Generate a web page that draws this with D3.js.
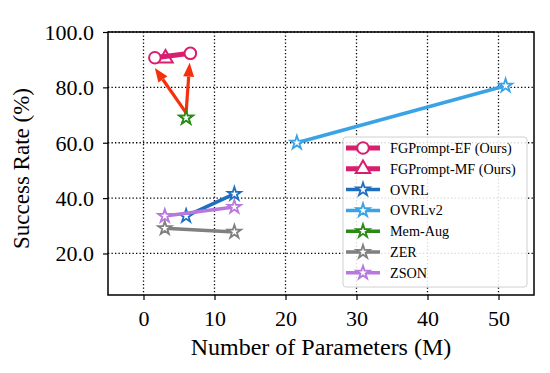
<!DOCTYPE html>
<html><head><meta charset="utf-8">
<script src="https://cdn.jsdelivr.net/npm/d3@7"></script>
<style>body{margin:0;background:#fff}svg{display:block}text{font-family:'Liberation Serif','Times New Roman',serif}</style>
</head><body>
<svg id="c" width="550" height="373"></svg>
<script>
const seriesNames = ["FGPrompt-EF (Ours)","FGPrompt-MF (Ours)","OVRL","OVRLv2","Mem-Aug","ZER","ZSON"];
const seriesColors = ["#d81f6f","#d81f6f","#1f6fc0","#3aa3e6","#2a8a16","#808080","#b878dc"];
const seriesMarkers = ["circle","triangle","star","star","star","star","star"];
const seriesParams = [[1.6,6.6],[3.1],[6.0,12.8],[21.6,51.0],[6.0],[3.0,12.8],[3.0,12.8]];
const seriesSuccess = [[90.7,92.3],[90.5],[33.5,41.5],[60.0,80.6],[69.0],[29.1,27.8],[33.5,36.8]];
const xTicks = [0,10,20,30,40,50];
const yTicks = [20,40,60,80,100];
const arrowFrom = [[6.0,69.0],[6.0,69.0]];
const arrowTo = [[1.6,87.0],[6.5,88.9]];

const svg = d3.select("#c");
const m = {l:108,r:534,t:32,b:295};
const x = d3.scaleLinear().domain([-5,55]).range([m.l,m.r]);
const y = d3.scaleLinear().domain([5,100]).range([m.b,m.t]);
const font = "'Liberation Serif','Times New Roman',serif";

// grid
const g = svg.append("g");
g.selectAll(".gx").data(xTicks).enter().append("line")
 .attr("x1",d=>x(d)).attr("x2",d=>x(d)).attr("y1",m.t).attr("y2",m.b)
 .attr("stroke","#000").attr("stroke-width",1.3).attr("stroke-dasharray","1.3,2.2");
g.selectAll(".gy").data(yTicks).enter().append("line")
 .attr("y1",d=>y(d)).attr("y2",d=>y(d)).attr("x1",m.l).attr("x2",m.r)
 .attr("stroke","#000").attr("stroke-width",1.3).attr("stroke-dasharray","1.3,2.2");

// axes
const xa = svg.append("g").attr("transform",`translate(0,${m.b})`)
 .call(d3.axisBottom(x).tickValues(xTicks).tickSize(5).tickFormat(d3.format("d")));
const ya = svg.append("g").attr("transform",`translate(${m.l},0)`)
 .call(d3.axisLeft(y).tickValues(yTicks).tickSize(5).tickFormat(d3.format(".1f")));
[xa,ya].forEach(a=>{
  a.select(".domain").remove();
  a.selectAll("line").attr("stroke","#000").attr("stroke-width",1.2);
  a.selectAll("text").attr("font-family",font).attr("font-size",22).attr("fill","#000");
});
xa.selectAll("text").attr("y",31).attr("dy",0);
ya.selectAll("text").attr("x",-14).attr("dy","0.34em");
svg.append("rect").attr("x",m.l).attr("y",m.t).attr("width",m.r-m.l).attr("height",m.b-m.t)
 .attr("fill","none").attr("stroke","#000").attr("stroke-width",1.5);

svg.append("text").attr("x",(m.l+m.r)/2).attr("y",355).attr("text-anchor","middle")
 .attr("font-family",font).attr("font-size",24).text("Number of Parameters (M)");
svg.append("text").attr("transform",`translate(29,${(m.t+m.b)/2+5}) rotate(-90)`).attr("text-anchor","middle")
 .attr("font-family",font).attr("font-size",23).text("Success Rate (%)");

// markers
function drawMarker(sel, type, color, scale){
  scale = scale||1;
  if(type==="circle"){
    sel.append("circle").attr("r",5.8*scale).attr("fill","#fff").attr("stroke",color).attr("stroke-width",2);
  } else if(type==="triangle"){
    sel.append("path").attr("d",d3.symbol().type(d3.symbolTriangle).size(90*scale*scale)()).attr("fill","#fff").attr("stroke",color).attr("stroke-width",2);
  } else {
    sel.append("path").attr("d",d3.symbol().type(d3.symbolStar).size(55*scale*scale)()).attr("fill","#fff").attr("stroke",color).attr("stroke-width",1.8);
  }
}

const line = d3.line().x(d=>x(d[0])).y(d=>y(d[1]));
const order = [3,2,5,6,4,1,0];
order.forEach(i=>{
  const pts = seriesParams[i].map((p,j)=>[p,seriesSuccess[i][j]]);
  const lw = i<2?5:3.5;
  if(pts.length>1) svg.append("path").attr("d",line(pts)).attr("fill","none")
    .attr("stroke",seriesColors[i]).attr("stroke-width",lw);
  pts.forEach(p=>{
    const mk = svg.append("g").attr("transform",`translate(${x(p[0])},${y(p[1])})`);
    drawMarker(mk, seriesMarkers[i], seriesColors[i]);
  });
});

// arrows
const arrowColor = "#f5300c";
arrowFrom.forEach((f,i)=>{
  const t = arrowTo[i];
  const x1 = x(f[0]), y1 = y(f[1])-5, x2 = x(t[0]), y2 = y(t[1]);
  const ang = Math.atan2(y2-y1,x2-x1);
  const hl = 14, hw = 5.5;
  const bx = x2 - hl*Math.cos(ang), by = y2 - hl*Math.sin(ang);
  svg.append("line").attr("x1",x1).attr("y1",y1).attr("x2",bx).attr("y2",by)
   .attr("stroke",arrowColor).attr("stroke-width",3.2);
  const px = -Math.sin(ang)*hw, py = Math.cos(ang)*hw;
  svg.append("path").attr("d",`M${x2},${y2}L${bx+px},${by+py}L${bx-px},${by-py}Z`).attr("fill",arrowColor);
});
{
  const mk = svg.append("g").attr("transform",`translate(${x(seriesParams[4][0])},${y(seriesSuccess[4][0])})`);
  drawMarker(mk,"star",seriesColors[4]);
}

// legend
const lg = svg.append("g");
lg.append("rect").attr("x",343).attr("y",137).attr("width",184).attr("height",150).attr("rx",3)
 .attr("fill","#fff").attr("fill-opacity",0.85).attr("stroke","#d0d0d0").attr("stroke-width",1);
seriesNames.forEach((n,i)=>{
  const yy = 148 + i*20.8;
  const lw = i<2?5:3.5;
  lg.append("line").attr("x1",346).attr("x2",380).attr("y1",yy).attr("y2",yy)
   .attr("stroke",seriesColors[i]).attr("stroke-width",lw);
  const mk = lg.append("g").attr("transform",`translate(363,${yy})`);
  drawMarker(mk, seriesMarkers[i], seriesColors[i]);
  lg.append("text").attr("x",390).attr("y",yy+5).attr("font-family",font).attr("font-size",14.2)
   .attr("fill","#000").text(n);
});
</script>
</body></html>
